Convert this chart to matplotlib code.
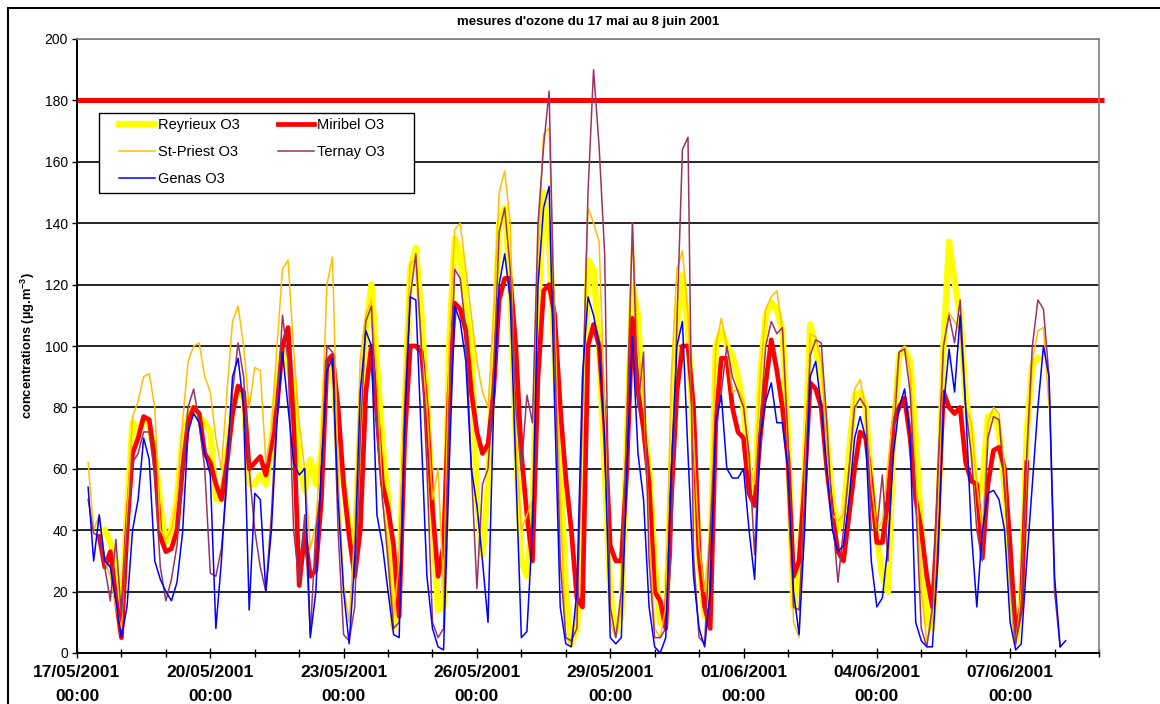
"""
Ozone measurements, 17 May - 8 June 2001, five stations.
Readings taken off the original chart every 3 hours (one row per day).
"""

import numpy as np
import pandas as pd
import matplotlib
matplotlib.use("Agg")
import matplotlib.pyplot as plt
import matplotlib.patches as mpatches

plt.rcParams["font.family"] = ["Liberation Sans", "DejaVu Sans"]
plt.rcParams["mathtext.fontset"] = "custom"
plt.rcParams["mathtext.rm"] = "Liberation Sans"
plt.rcParams["mathtext.bf"] = "Liberation Sans:bold"

TITLE = "mesures d'ozone du 17 mai au 8 juin 2001"
Y_LABEL = r"concentrations (µg.m$^{\mathbf{-3}}$)"
THRESHOLD = 180

# first reading of each series; readings follow every 3 h
reyrieux_start = "2001-05-17 15:00"
reyrieux = [
    40, 36, 30,
    12, 45, 75, 72, 76, 74, 65, 48,
    36, 40, 50, 70, 77, 80, 77, 75,
    72, 50, 50, 65, 80, 86, 83, 55,
    55, 58, 55, 68, 88, 98, 92, 88,
    61, 53, 63, 55, 65, 96, 94, 66,
    55, 40, 36, 75, 105, 120, 94, 68,
    50, 8, 22, 80, 125, 132, 110, 83,
    45, 14, 15, 100, 135, 130, 112, 100,
    50, 32, 55, 95, 140, 145, 120, 70,
    30, 25, 45, 110, 150, 135, 95, 65,
    20, 3, 8, 40, 128, 125, 100, 60,
    20, 7, 12, 70, 120, 110, 75, 60,
    30, 10, 10, 60, 107, 123, 105, 70,
    30, 12, 25, 100, 105, 100, 97, 90,
    80, 60, 50, 90, 110, 114, 112, 105,
    70, 15, 25, 60, 107, 100, 88, 70,
    50, 40, 45, 65, 84, 85, 80, 55,
    38, 25, 20, 70, 97, 99, 95, 70,
    40, 10, 8, 40, 100, 134, 121, 110,
    83, 72, 50, 55, 77, 78, 72, 54,
    28, 4, 17, 72, 94, 96,
]

miribel_start = "2001-05-17 12:00"
miribel = [
    38, 28, 33, 18,
    5, 40, 65, 70, 77, 76, 63, 38,
    33, 34, 40, 60, 75, 80, 78, 65,
    62, 55, 50, 62, 78, 87, 85, 60,
    62, 64, 58, 68, 80, 100, 106, 75,
    22, 39, 25, 27, 50, 95, 97, 80,
    55, 38, 25, 40, 85, 100, 78, 55,
    47, 35, 12, 70, 100, 100, 98, 78,
    47, 25, 35, 85, 114, 112, 105, 85,
    72, 65, 68, 85, 115, 122, 122, 100,
    65, 45, 30, 90, 118, 120, 110, 80,
    57, 40, 18, 15, 100, 107, 100, 75,
    35, 30, 30, 60, 109, 85, 73, 55,
    20, 17, 8, 50, 85, 100, 100, 80,
    32, 15, 8, 75, 96, 96, 80, 72,
    70, 52, 48, 70, 88, 102, 92, 80,
    63, 25, 30, 55, 88, 86, 80, 60,
    45, 33, 30, 45, 60, 72, 70, 55,
    36, 36, 50, 75, 80, 83, 70, 50,
    40, 25, 15, 45, 85, 80, 78, 80,
    62, 56, 55, 31, 55, 66, 67, 60,
    35, 6, 15, 62,
]

st_priest_start = "2001-05-17 06:00"
st_priest = [
    62, 40, 45, 30, 25, 15,
    8, 45, 77, 82, 90, 91, 80, 40,
    37, 40, 50, 75, 95, 100, 101, 90,
    85, 70, 60, 85, 108, 113, 100, 80,
    93, 92, 62, 72, 100, 125, 128, 99,
    75, 60, 34, 42, 70, 120, 129, 60,
    22, 10, 40, 96, 110, 115, 90, 50,
    35, 12, 30, 88, 127, 128, 100, 80,
    50, 60, 20, 100, 138, 140, 125, 110,
    95, 85, 80, 110, 150, 157, 140, 70,
    40, 45, 50, 130, 169, 171, 110, 50,
    5, 3, 15, 80, 145, 140, 134, 80,
    10, 5, 15, 80, 140, 100, 85, 40,
    8, 5, 15, 90, 125, 131, 110, 70,
    35, 20, 40, 100, 109, 100, 85, 86,
    82, 60, 55, 90, 112, 116, 118, 105,
    66, 10, 5, 55, 104, 103, 95, 65,
    45, 43, 45, 60, 86, 89, 80, 55,
    40, 43, 61, 80, 98, 100, 92, 60,
    20, 4, 10, 45, 100, 111, 108, 105,
    80, 75, 55, 40, 75, 80, 78, 60,
    20, 2, 20, 60, 95, 105, 106, 80,
]

ternay_start = "2001-05-17 06:00"
ternay = [
    50, 39, 38, 28, 17, 37,
    12, 40, 62, 65, 72, 72, 58, 28,
    17, 24, 35, 60, 80, 86, 75, 60,
    26, 25, 34, 55, 85, 101, 90, 60,
    40, 28, 20, 45, 80, 110, 95, 40,
    23, 45, 6, 40, 55, 100, 98, 40,
    6, 4, 15, 70, 108, 113, 72, 50,
    30, 8, 10, 80, 116, 130, 100, 60,
    10, 5, 8, 80, 125, 122, 105, 60,
    21, 55, 60, 90, 137, 145, 125, 80,
    60, 84, 75, 140, 165, 183, 100, 30,
    5, 4, 8, 80, 150, 190, 165, 130,
    15, 5, 20, 75, 140, 80, 98, 30,
    5, 5, 8, 32, 107, 164, 168, 32,
    5, 3, 40, 75, 85, 100, 90, 85,
    80, 65, 32, 75, 100, 108, 104, 106,
    70, 15, 14, 50, 97, 102, 101, 75,
    45, 23, 40, 60, 80, 83, 80, 40,
    40, 58, 30, 70, 98, 99, 85, 50,
    8, 2, 15, 60, 100, 110, 101, 115,
    80, 65, 40, 30, 70, 77, 76, 55,
    25, 3, 15, 65, 100, 115, 112, 90,
    20, 2,
]

genas_start = "2001-05-17 06:00"
genas = [
    54, 30, 45, 30, 28, 17,
    5, 15, 40, 50, 70, 63, 30, 24,
    20, 17, 23, 39, 72, 78, 75, 65,
    58, 8, 30, 60, 90, 96, 80, 14,
    52, 50, 20, 40, 75, 98, 80, 62,
    58, 60, 5, 20, 60, 92, 96, 50,
    20, 3, 30, 85, 105, 100, 45, 35,
    20, 6, 5, 75, 116, 115, 70, 25,
    8, 2, 1, 60, 113, 108, 95, 60,
    48, 30, 10, 80, 120, 130, 115, 60,
    5, 7, 40, 120, 145, 152, 80, 15,
    3, 2, 20, 90, 116, 110, 100, 70,
    5, 3, 5, 60, 103, 65, 50, 15,
    2, 0, 5, 60, 100, 108, 65, 25,
    8, 2, 20, 75, 84, 60, 57, 57,
    60, 40, 24, 70, 82, 88, 75, 75,
    60, 20, 6, 40, 90, 95, 80, 60,
    40, 33, 35, 50, 70, 77, 70, 30,
    15, 18, 35, 65, 80, 86, 70, 10,
    4, 2, 2, 30, 80, 99, 85, 110,
    80, 40, 15, 40, 52, 53, 50, 40,
    10, 1, 3, 30, 55, 80, 100, 90,
    25, 2, 4,
]

# (label, start, values, colour, width) in Excel drawing order
SERIES = [
    ("Reyrieux O3", reyrieux_start, reyrieux, "#FFFF00", 4.6),
    ("Miribel O3", miribel_start, miribel, "#FF0000", 3.4),
    ("St-Priest O3", st_priest_start, st_priest, "#FFC000", 1.1),
    ("Ternay O3", ternay_start, ternay, "#993366", 1.1),
    ("Genas O3", genas_start, genas, "#0000FF", 1.1),
]

W, H = 1160, 704
fig = plt.figure(figsize=(W / 100, H / 100), dpi=100)
ax = fig.add_axes([77 / W, 1 - 653 / H, (1099 - 77) / W, (653 - 39) / H])

ax.axhline(THRESHOLD, xmin=0, xmax=1.005, color="#FF0000", lw=3.6,
           clip_on=False, zorder=2, solid_capstyle="butt")

handles = []
for label, start, values, color, lw in SERIES:
    t = pd.date_range(start, periods=len(values), freq="3h")
    line, = ax.plot(t, values, color=color, lw=lw, label=label, zorder=3,
                    solid_joinstyle="round")
    handles.append(line)

# axes, grid
ax.set_xlim(pd.Timestamp("2001-05-17"), pd.Timestamp("2001-06-09"))
ax.set_ylim(0, 200)
ax.set_yticks(np.arange(0, 201, 20))
ax.tick_params(axis="y", labelsize=10, direction="out", length=3.6,
               width=1.0, pad=3)
ax.set_axisbelow(True)
ax.yaxis.grid(True, color="black", lw=1.2)
ax.get_ygridlines()[-1].set_color("#808080")

major = pd.date_range("2001-05-17", "2001-06-07", freq="3D")
minor = pd.date_range("2001-05-17", "2001-06-09", freq="D")
ax.set_xticks(minor, minor=True)
ax.set_xticks(major)
ax.set_xticklabels([d.strftime("%d/%m/%Y\n%H:%M") for d in major],
                   fontsize=12.5, fontweight="bold", linespacing=1.8)
ax.tick_params(axis="x", which="major", direction="inout", length=7.7,
               width=1.0, pad=4.6)
ax.tick_params(axis="x", which="minor", direction="inout", length=5.8,
               width=1.0)

for side in ("left", "bottom"):
    ax.spines[side].set_color("black")
    ax.spines[side].set_linewidth(1.4)
for side in ("top", "right"):
    ax.spines[side].set_color("#808080")
    ax.spines[side].set_linewidth(1.2)

ax.set_ylabel(Y_LABEL, fontsize=9.3, fontweight="bold")
ax.yaxis.set_label_coords(-(77 - 37) / (1099 - 77), 0.5)

# legend: entries placed on their own, frame drawn as a fixed box
leg = ax.legend(handles=[handles[i] for i in (0, 2, 4, 1, 3)],
                loc="upper left", bbox_to_anchor=(119 / W, 1 - 118 / H),
                bbox_transform=fig.transFigure, ncol=2, fontsize=10.5,
                frameon=False, borderaxespad=0, borderpad=0,
                handlelength=2.5, handletextpad=0.2, columnspacing=2.6,
                labelspacing=0.88)
leg.set_zorder(5)
ax.add_patch(mpatches.Rectangle((99 / W, 1 - 193 / H), (414 - 99) / W,
                                (193 - 113) / H, transform=fig.transFigure,
                                facecolor="white", edgecolor="black",
                                lw=1.0, zorder=4, clip_on=False))

fig.text(588 / W, 1 - 22 / H, TITLE, ha="center", va="center",
         fontsize=9.5, fontweight="bold")

# outer chart border (right/bottom edges fall outside the picture)
fig.add_artist(mpatches.Rectangle((8 / W, -0.05), 1.2, 1 - 8 / H + 0.05,
                                  transform=fig.transFigure, fill=False,
                                  lw=1.5, edgecolor="black"))

fig.savefig("out.png", dpi=100)
plt.close(fig)
